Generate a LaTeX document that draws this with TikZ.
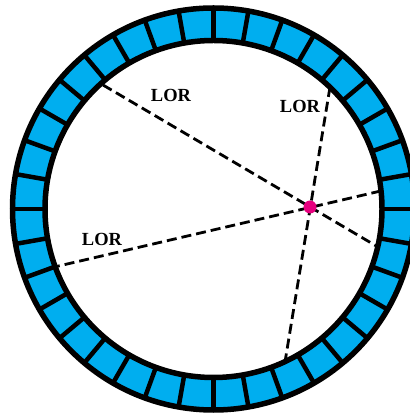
\documentclass[tikz,border=0pt]{standalone}
\usepackage{fontspec}
\setmainfont{Liberation Serif}
\definecolor{detblue}{RGB}{0,174,239}
\definecolor{hitpink}{RGB}{230,0,126}

\begin{document}
\begin{tikzpicture}[x=1pt,y=1pt,
  lor/.style={dashed, dash pattern=on 10pt off 5pt, line width=2.8pt},
  lorlabel/.style={inner sep=0pt, font=\fontsize{18.5}{21}\selectfont\bfseries}]
\useasboundingbox (0,0) rectangle (409,414);
\coordinate (c) at (213.5,205);
% detector ring
\fill[detblue, even odd rule] (c) circle (202) (c) circle (168);
\foreach \a in {0,10,...,350}
  \draw[line width=4.5pt] ([shift={(\a:168)}]c) -- ([shift={(\a:202)}]c);
\draw[line width=5.5pt] (c) circle (201);
\draw[line width=5.5pt] (c) circle (168.5);
% lines of response
\coordinate (lor1a) at (103,329);
\coordinate (lor1b) at (378,167);
\coordinate (lor2a) at (50,146);
\coordinate (lor2b) at (385,224);
\coordinate (lor3a) at (330,327);
\coordinate (lor3b) at (285,52);
\draw[lor] (lor1a) -- (lor1b);
\draw[lor] (lor2a) -- (lor2b);
\draw[lor] (lor3a) -- (lor3b);
\node[circle, fill=hitpink, minimum size=13pt, inner sep=0pt] (hit) at (310,207) {};
\node[lorlabel] (lab1) at (171,318.5) {LOR};
\node[lorlabel] (lab2) at (300,307.5) {LOR};
\node[lorlabel] (lab3) at (102,174.5) {LOR};
\end{tikzpicture}
\end{document}
